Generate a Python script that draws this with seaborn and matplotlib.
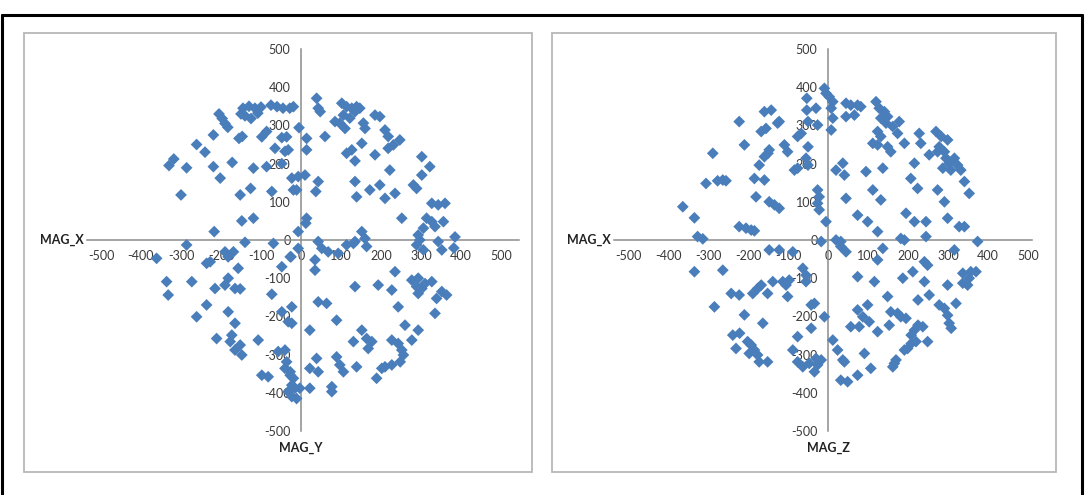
import seaborn as sns
import matplotlib.pyplot as plt
from matplotlib.patches import Rectangle
from matplotlib.lines import Line2D

W, H = 1085, 495

# values (MAG_X vs MAG_Y, MAG_X vs MAG_Z)
mag_x_a = [
    -330, -318, -286, -300, -261, -240, -219, -205, -197, -190, -183,
    -219, -202, -217, -172, -155, -147, -152, -126, -119, -148, -119, -140,
    -145, -130, -115, -100, -140, -125, -108, -150, -98, -86,
    -75, -60, -45, -28, -19, -65, -48, -40, -73, -86, -23, -19, -48, -69,
    -5, -36, -32, 14, 14, -7, 10, -11, 43, 37, 39, 43, 48, 60, 14, 12, -7, 43,
    102, 114, 127, 139, 85, 97, 110, 122, 135, 147, 156, 160, 106,
    185, 197, 210, 218, 231, 247, 152, 114, 127, 135, 185, 218, 222, 135, 139,
    172, 197, 210, 235, 252, 302, 322, 302, 281, 289, 327, 343, 360, 314, 327,
    306, 335, 356, 293, 297, 152, 160, 135, 385, 382,
    -361, -286, -236, -227, -190, -169, -182, -157, -48, -27,
    -336, -332, -273, -215, -190, -182, -165, -152, -73, -236, -261, -182,
    -165, -173, -177, -211, -152, -148, -165, -107, -98, -82, -48, -32, -57,
    -40, -40, -27, -23, -32, -23,
    -25, -7, 35, 35, 52, 68, 93, 114, 131, 164, 235, 135, 193, 227, 277, 293,
    310, 327, 293, 289, 302, 352, 364, 339, 335, 289, 306, 352, 343, -23, -23,
    43, 64, 89, 22, 243, 260, 293, 152, 131, 164, 177, 168, 227, 243, 252, 277,
    256, 248, 227, 210, 39, 22, 43, 89, 97, 106, 139, 189, 202, 77, 77, -3, 22,
    -36, -27, -19, -15, -11,
]
mag_y = [
    195, 212, 189, 118, 250, 230, 275, 330, 318, 305, 295,
    192, 162, 22, 203, 266, 271, 118, 135, 188, 50, 57, -6,
    345, 350, 345, 348, 325, 318, 332, 330, 270, 284,
    353, 349, 345, 345, 349, 240, 268, 232, 127, 192, 162, 131, 200, -9,
    294, 270, 236, 266, 236, 166, 170, 131, 153, 127, 371, 345, 336, 271, 57, 44, 22, -4,
    358, 349, 345, 349, 310, 306, 292, 319, 336, 345, 306, 292, 327,
    327, 323, 288, 271, 249, 262, 253, 227, 236, 207, 223, 240, 183, 153, 113,
    131, 144, 109, 122, 57, 218, 192, 170, 144, 135, 96, 92, 96, 57, 48,
    31, 35, 48, 13, 0, 22, 4, -4, 8, -21,
    -48, -13, -61, -57, -31, -31, -44, -74, -70, -44,
    -109, -144, -109, -127, -118, -100, -127, -128, -142, -170, -201, -188,
    -218, -249, -266, -258, -275, -301, -288, -262, -354, -358, -188, -214, -292,
    -288, -336, -354, -380, -397, -410,
    -44, -22, -52, -79, -22, -31, -35, -13, -9, -17, -83, -122, -118, -131, -105, -100,
    -114, -109, -140, -122, -127, -135, -144, -153, -192, -13, -26, -26, -4, -175, -218,
    -162, -166, -210, -236, -175, -223, -236, -236, -266, -258, -266, -284, -262, -271, -288, -262,
    -301, -319, -327, -332, -310, -336, -345, -306, -327, -345, -332, -362, -336, -384, -397, -388, -388,
    -319, -345, -362, -388, -415,
]

mag_x_b = [
    -363, -334, -326, -313, -288, -305, -276, -263, -255, -222, -209, -222,
    -205, -192, -184, -184, -159, -180, -147, -134, -122, -172, -159, -150,
    -147, -167, -155, -159, -142, -126, -122, -109, -101, -84, -76, -76, -67,
    -53, -53, -50, -50, -50, -55, -26, -22, -26, -22,
    -9, -5, 3, 12, -30, 8, 12, 8, -26, 45, 57, 74, 82, 45, 66, 120, 128, 141,
    132, 149, 145, 178, 174, 162, 124, 132, 149, 112, 124, 157, 191, 228, 232,
    270, 283, 299, 278, 291, 253, 274, 295, 303, 316, 324, 287, 307, 332, 341,
    353, 37, 20, 41, 95, 137, 216, 207, 224, 112, 132, 45, -5, 74, 99, 124, 195,
    216, 245, 274, 291, 299, 328, 341, 182, 245, 20, 32, -17,
    -334, -263, -147, -122, -88, -63, -55, -55, -97, -113, -138, -151, -176,
    -167, -188, -242, -222, -284, -209, -163, -238, -221, -230, -201, -192,
    -184, -176, -172, -151, -197, -105, -101, -42, -34, -42, -9, -76, -88,
    -76, -63, -47, -34, -26, -17, -30, 32, 45, 12, 24, 37, 41, 32, 49, 74, 91,
    107, 74, 116, 137, 124, 74, 99, 87, 103, 78, 57, 124, 149, 157, 153, 174,
    182, 166, 162, 170, 187, 191, 212, 225, 241, 253, 241, 249, 195, 208, 216,
    225, 208, 199, 191, 220, 249, 237, 278, 291, 299, 303, 308, 299, 320, 316,
    337, 337, 349, 353, 357, 370, 374,
]
mag_z = [
    87, 58, 9, 3, 227, 148, 155, 157, 155, 310, 249, 35,
    31, 26, 24, 161, 157, 113, 100, 92, 83, 196, 218, 227,
    236, 284, 292, 336, 340, 306, 310, 249, 231, 183, 188, 271, 279,
    371, 340, 310, 244, 196, 214, 131, 113, 96, 79,
    397, 384, 375, 362, 345, 345, 319, 288, 301, 358, 353, 353, 349, 323, 327, 362, 345, 336,
    319, 323, 306, 310, 279, 297, 284, 271, 244, 253, 249, 231, 253, 279, 253,
    284, 271, 262, 244, 231, 223, 231, 214, 201, 214, 196, 188, 183, 183, 153,
    122, 201, 183, 170, 179, 188, 201, 161, 135, 131, 105, 109, 48, 65, 48, 22, 70,
    48, 48, 131, 100, 57, 35, 35, 4, 9, 0, -4, -4,
    -83, -79, -26, -26, -31, -74, -109, -92, -105, -109, -109, -140, -127,
    -118, -140, -140, -144, -175, -196, -218, -249, -244, -284, -266, -275,
    -288, -301, -319, -319, -297, -118, -148, -170, -166, -231, -201, -253, -288,
    -319, -332, -323, -345, -327, -314, -310, -17, -31, -262, -288, -314, -319, -367, -371, -354, -297,
    -336, -96, -109, -22, -52, -183, -170, -201, -214, -227, -227, -240, -148, -188, -223, -192,
    -201, -323, -332, -314, -100, 0, -83, -157, -109, -144, -57, -66, -205, -249, -236,
    -223, -271, -284, -288, -266, -266, -227, -170, -179, -197, -218, -231, -118, -166, -26,
    -87, -113, -118, -100, -83, -83, -4,
]

ticks = [-500, -400, -300, -200, -100, 0, 100, 200, 300, 400, 500]

sns.set_style("white")
plt.rcParams["font.family"] = ["Lato", "DejaVu Sans"]

blue = "#4A7EBB"
axis_grey = "#8c8c8c"
text_grey = "#3a3a3a"


def px_axes(fig, x0, y0, x1, y1):
    return fig.add_axes([x0 / W, 1 - y1 / H, (x1 - x0) / W, (y1 - y0) / H])


def px_box(fig, x0, y0, x1, y1, **kw):
    fig.add_artist(Rectangle((x0 / W, 1 - y1 / H), (x1 - x0) / W, (y1 - y0) / H,
                             transform=fig.transFigure, fill=False, **kw))


def draw_panel(ax, xs, ys, xlim, vname):
    sns.scatterplot(x=xs, y=ys, ax=ax, marker="D", s=36, color=blue,
                    edgecolor="none", linewidth=0, zorder=3, clip_on=False)
    ax.set_xlim(*xlim)
    ax.set_ylim(-500, 500)
    ax.set_facecolor("none")
    for side in ["top", "right"]:
        ax.spines[side].set_visible(False)
    for side in ["left", "bottom"]:
        ax.spines[side].set_position(("data", 0))
        ax.spines[side].set_color(axis_grey)
        ax.spines[side].set_linewidth(1.1)
    ax.set_xticks(ticks)
    ax.set_yticks(ticks)
    ax.set_xticklabels([str(t) for t in ticks])
    ax.set_yticklabels([str(t) for t in ticks])
    ax.tick_params(axis="both", direction="out", length=3.5, width=1.0,
                   color=axis_grey, labelcolor=text_grey, labelsize=9)
    ax.tick_params(axis="x", pad=4)
    ax.tick_params(axis="y", pad=4)
    ax.set_xlabel("")
    ax.set_ylabel("")
    ax.text(xlim[0] - 8, 0, "MAG_X", ha="right", va="center",
            fontsize=9, fontweight="bold", color="#222222")
    ax.text(0, -545, vname, ha="center", va="center",
            fontsize=9, fontweight="bold", color="#222222")


fig = plt.figure(figsize=(W / 100, H / 100), dpi=100)

# outer frame of the scanned figure
for xs_, ys_ in [([2, 1082], [15, 15]), ([2, 2], [15, 495]), ([1082, 1082], [15, 495])]:
    fig.add_artist(Line2D([x / W for x in xs_], [1 - y / H for y in ys_],
                          transform=fig.transFigure, color="black", lw=2.2))

# chart area borders
px_box(fig, 24, 33, 532, 472, ec="#b8b8b8", lw=1.3)
px_box(fig, 552, 33, 1056, 472, ec="#b8b8b8", lw=1.3)

ax1 = px_axes(fig, 87, 49, 519, 431)
draw_panel(ax1, mag_x_a, mag_y, (-535, 545), "MAG_Y")

ax2 = px_axes(fig, 614, 49, 1032, 431)
draw_panel(ax2, mag_x_b, mag_z, (-535, 510), "MAG_Z")

fig.savefig("out.png", dpi=100)
